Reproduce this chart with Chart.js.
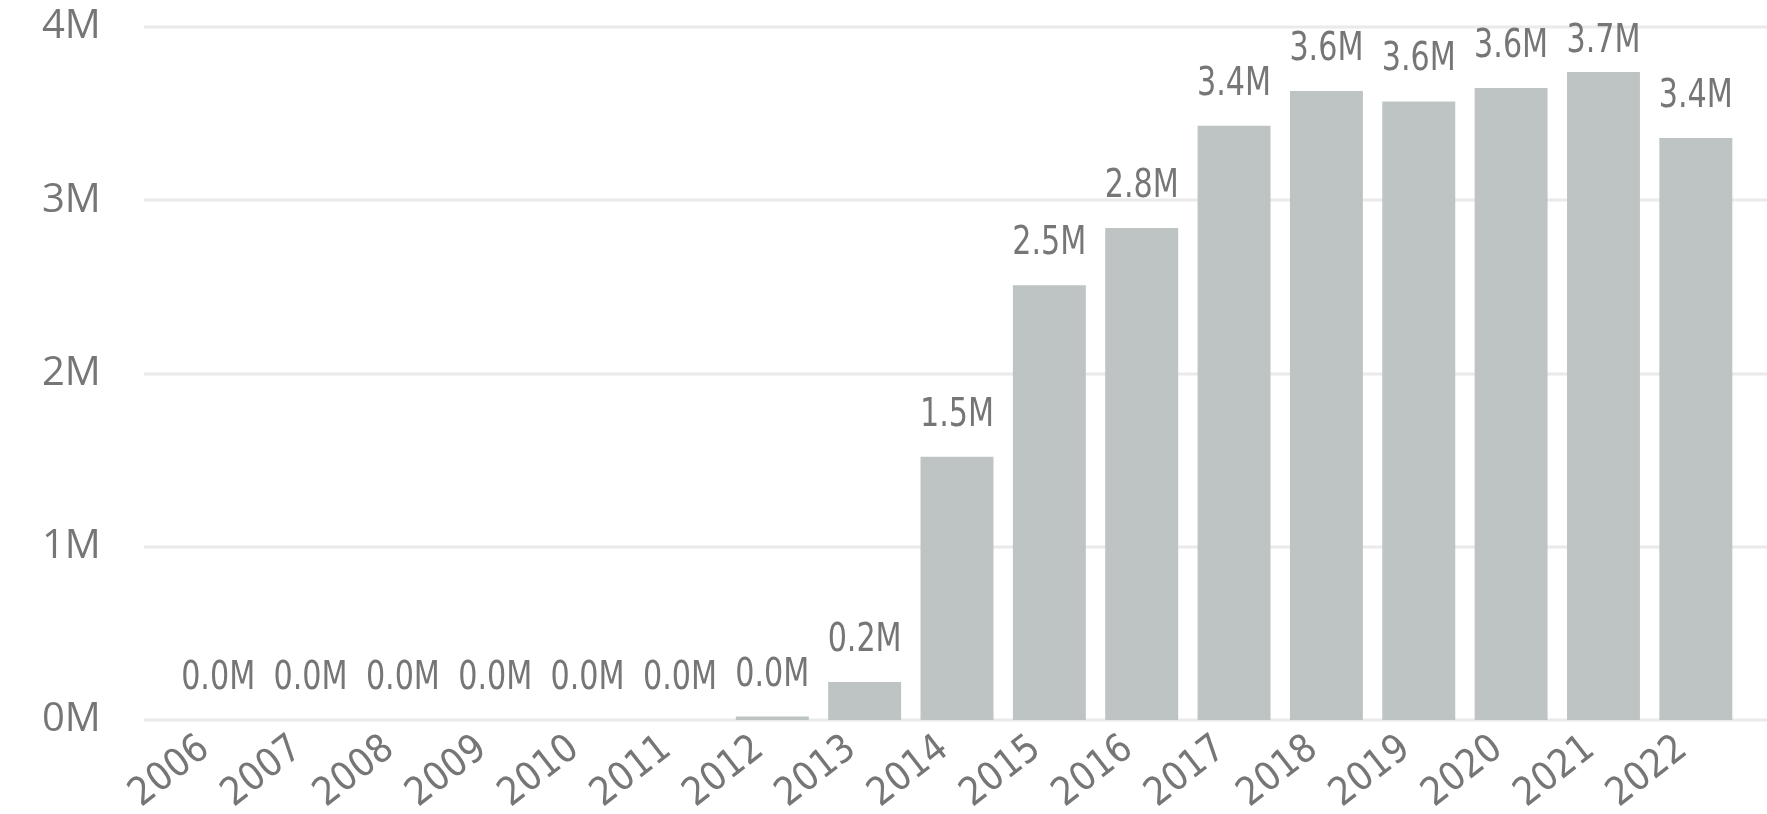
<!DOCTYPE html>
<html>
<head>
<meta charset="utf-8">
<script src="https://cdn.jsdelivr.net/npm/chart.js@4"></script>
<style>
  html, body { margin: 0; padding: 0; background: #ffffff; }
  canvas { display: block; }
</style>
</head>
<body>
<canvas id="c" width="1767" height="814"></canvas>
<script>
const years = ['2006','2007','2008','2009','2010','2011','2012','2013','2014','2015','2016','2017','2018','2019','2020','2021','2022'];
const values = [0, 0, 0, 0, 0, 0, 20000, 220000, 1520000, 2510000, 2840000, 3430000, 3630000, 3570000, 3648000, 3740000, 3360000];
const yTickValues = [0, 1000000, 2000000, 3000000, 4000000];
const yTickLabels = ['0M', '1M', '2M', '3M', '4M'];

const TEXT = '#767676';
const NARROW = "'DejaVu Sans Condensed', 'DejaVu Sans', sans-serif";

const gridPlugin = {
  id: 'extGrid',
  beforeDatasetsDraw(chart) {
    const ctx = chart.ctx, y = chart.scales.y;
    ctx.save();
    ctx.fillStyle = '#EAEAEA';
    yTickValues.forEach(v => {
      const py = y.getPixelForValue(v);
      ctx.fillRect(144, Math.round(py) - 1.5, chart.width - 144, 3);
    });
    ctx.restore();
  }
};

const labelPlugin = {
  id: 'dataLabels',
  afterDatasetsDraw(chart) {
    const ctx = chart.ctx;
    const meta = chart.getDatasetMeta(0);
    const top = chart.chartArea.top;
    const sx = 0.86;
    ctx.save();
    ctx.font = '39px ' + NARROW;
    ctx.fillStyle = TEXT;
    ctx.textAlign = 'center';
    ctx.textBaseline = 'alphabetic';
    meta.data.forEach((bar, i) => {
      let by = bar.y - 31;
      if (by < top + 25) by = top + 25;
      ctx.save();
      ctx.translate(bar.x, by);
      ctx.scale(sx, 1);
      ctx.fillText((values[i] / 1e6).toFixed(1) + 'M', 0, 0);
      ctx.restore();
    });
    ctx.restore();
  }
};

new Chart(document.getElementById('c'), {
  type: 'bar',
  data: {
    labels: years,
    datasets: [{
      data: values,
      backgroundColor: '#BEC4C3',
      borderWidth: 0,
      barPercentage: 0.79,
      categoryPercentage: 1.0
    }]
  },
  options: {
    responsive: false,
    animation: false,
    devicePixelRatio: 1,
    layout: { padding: { top: 27, right: 25, left: 42, bottom: 0 } },
    plugins: { legend: { display: false }, tooltip: { enabled: false } },
    scales: {
      x: {
        offset: true,
        grid: { display: false, drawTicks: false },
        border: { display: false },
        ticks: {
          autoSkip: false,
          minRotation: 38,
          maxRotation: 38,
          padding: 6,
          labelOffset: -13,
          color: TEXT,
          font: { family: NARROW, size: 39 }
        },
        afterFit(scale) { scale.height = 94; }
      },
      y: {
        min: 0,
        max: 4000000,
        grid: { display: false, drawTicks: false },
        border: { display: false },
        afterBuildTicks(scale) { scale.ticks = yTickValues.map(v => ({ value: v })); },
        ticks: {
          padding: 0,
          crossAlign: 'far',
          color: TEXT,
          font: { family: "'Open Sans', sans-serif", size: 40 },
          callback: (v) => yTickLabels[yTickValues.indexOf(v)]
        },
        afterFit(scale) { scale.width = 130; }
      }
    }
  },
  plugins: [gridPlugin, labelPlugin]
});
</script>
</body>
</html>
